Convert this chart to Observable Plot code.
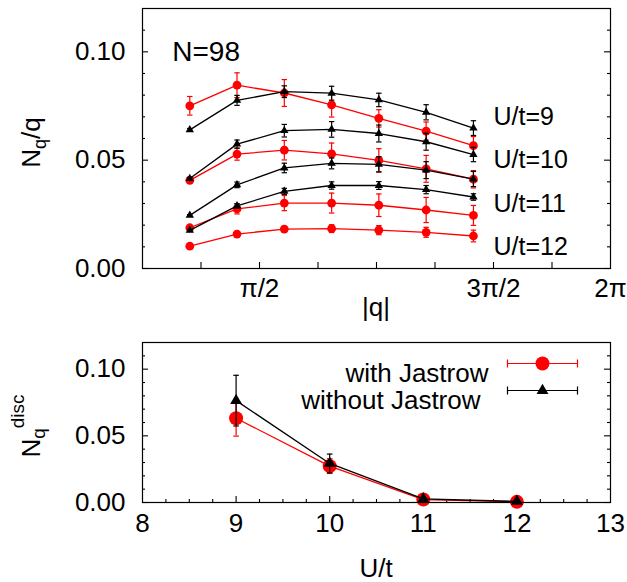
<!DOCTYPE html>
<html><head><meta charset="utf-8">
<script src="https://cdn.jsdelivr.net/npm/d3@7"></script>
<script src="https://cdn.jsdelivr.net/npm/@observablehq/plot@0.6"></script>
<style>
body{margin:0;background:#fff;}
#chart{width:627px;height:582px;position:relative;background:#fff;}
#chart svg{display:block;}
</style></head><body><div id="chart"></div>
<script>
const FONT = '"Liberation Sans", Arial, Helvetica, sans-serif';
const RED = "#ff0000";

// ---------- top panel data: N_q/q vs |q| (N=98) ----------
const qValues = [0.635, 1.269, 1.904, 2.539, 3.173, 3.808, 4.443];
const uValues = [9, 10, 11, 12];
// with Jastrow (red circles)
const withJ_U9  = [0.0751, 0.0846, 0.0810, 0.0755, 0.0693, 0.0634, 0.0567];
const withJ_U10 = [0.0407, 0.0528, 0.0546, 0.0529, 0.0499, 0.0460, 0.0412];
const withJ_U11 = [0.0188, 0.0275, 0.0302, 0.0302, 0.0292, 0.0270, 0.0245];
const withJ_U12 = [0.0103, 0.0159, 0.0182, 0.0184, 0.0177, 0.0167, 0.0150];
const withJ_U9err  = [0.0043, 0.0057, 0.0062, 0.0056, 0.0040, 0.0042, 0.0042];
const withJ_U10err = [0.0006, 0.0028, 0.0045, 0.0050, 0.0054, 0.0062, 0.0040];
const withJ_U11err = [0.0005, 0.0023, 0.0035, 0.0046, 0.0052, 0.0058, 0.0046];
const withJ_U12err = [0.0004, 0.0005, 0.0009, 0.0018, 0.0021, 0.0023, 0.0027];
// without Jastrow (black triangles)
const noJ_U9  = [0.0640, 0.0776, 0.0816, 0.0809, 0.0778, 0.0721, 0.0648];
const noJ_U10 = [0.0415, 0.0574, 0.0636, 0.0642, 0.0623, 0.0585, 0.0526];
const noJ_U11 = [0.0245, 0.0386, 0.0464, 0.0485, 0.0481, 0.0454, 0.0413];
const noJ_U12 = [0.0176, 0.0289, 0.0356, 0.0383, 0.0383, 0.0364, 0.0330];
const noJ_U9err  = [0.0006, 0.0023, 0.0027, 0.0032, 0.0031, 0.0035, 0.0034];
const noJ_U10err = [0.0006, 0.0019, 0.0029, 0.0036, 0.0039, 0.0039, 0.0033];
const noJ_U11err = [0.0004, 0.0013, 0.0022, 0.0025, 0.0035, 0.0039, 0.0035];
const noJ_U12err = [0.0004, 0.0010, 0.0014, 0.0017, 0.0018, 0.0019, 0.0015];

const topXTicks = [Math.PI/4, Math.PI/2, 3*Math.PI/4, Math.PI, 5*Math.PI/4, 3*Math.PI/2, 7*Math.PI/4];
const topXLabelValues = [Math.PI/2, 3*Math.PI/2, 2*Math.PI];
const topXLabels = ["π/2", "3π/2", "2π"];
const yMajorTicks = [0, 0.05, 0.10];
const yMinorTicks = [0.01, 0.02, 0.03, 0.04, 0.06, 0.07, 0.08, 0.09, 0.11];
const curveLabels = ["U/t=9", "U/t=10", "U/t=11", "U/t=12"];
const curveLabelY = [0.07, 0.05, 0.03, 0.01];
const curveLabelX = [3*Math.PI/2, 3*Math.PI/2, 3*Math.PI/2, 3*Math.PI/2];
const sizeLabel = ["N=98"];
const sizeLabelX = [0.4];
const sizeLabelY = [0.10];

// ---------- bottom panel data: N_q^disc vs U/t ----------
const uDisc = [9, 10, 11, 12];
const discWithJ = [0.0632, 0.0273, 0.0022, 0.0005];
const discWithJerr = [0.0134, 0.0055, 0.0008, 0.0005];
const discNoJ = [0.0764, 0.0293, 0.0027, 0.0008];
const discNoJerr = [0.0190, 0.0070, 0.0008, 0.0005];
const botXMajor = [9, 10, 11, 12];
const botXLabelValues = [8, 9, 10, 11, 12, 13];
const botXMinor = [8.25, 8.5, 8.75, 9.25, 9.5, 9.75, 10.25, 10.5, 10.75, 11.25, 11.5, 11.75, 12.25, 12.5, 12.75];
const legendLabels = ["with Jastrow", "without Jastrow"];

// ---------- build rows ----------
function rows(series, errs) {
  const out = [];
  series.forEach((s, k) => s.forEach((v, i) => out.push({U: uValues[k], q: qValues[i], v, e: errs[k][i]})));
  return out;
}
const redRows = rows([withJ_U9, withJ_U10, withJ_U11, withJ_U12], [withJ_U9err, withJ_U10err, withJ_U11err, withJ_U12err]);
const blackRows = rows([noJ_U9, noJ_U10, noJ_U11, noJ_U12], [noJ_U9err, noJ_U10err, noJ_U11err, noJ_U12err]);
const discRed = uDisc.map((u, i) => ({u, v: discWithJ[i], e: discWithJerr[i]}));
const discBlack = uDisc.map((u, i) => ({u, v: discNoJ[i], e: discNoJerr[i]}));

// ---------- custom symbols ----------
const capSym = (w) => ({draw(ctx){ ctx.moveTo(-w, 0); ctx.lineTo(w, 0); }});
const legendSym = {draw(ctx){
  ctx.moveTo(-35, 0); ctx.lineTo(35, 0);
  ctx.moveTo(-35, -4); ctx.lineTo(-35, 4);
  ctx.moveTo(35, -4); ctx.lineTo(35, 4);
}};

function errMarks(data, xKey, color, capW, sw) {
  return [
    Plot.ruleX(data, {x: xKey, y1: d => d.v - d.e, y2: d => d.v + d.e, stroke: color, strokeWidth: sw}),
    Plot.dot(data, {x: xKey, y: d => d.v + d.e, symbol: capSym(capW), stroke: color, fill: "none", strokeWidth: sw}),
    Plot.dot(data, {x: xKey, y: d => d.v - d.e, symbol: capSym(capW), stroke: color, fill: "none", strokeWidth: sw})
  ];
}
// inward tick marks on left & right frame edges (frame width in px = fw)
function yTickMarks(major, minor, fw) {
  const o = {stroke: "black", strokeWidth: 1.1};
  return [
    Plot.tickY(major, {y: d => d, insetRight: fw - 6, ...o}),
    Plot.tickY(minor, {y: d => d, insetRight: fw - 3, ...o}),
    Plot.tickY(major, {y: d => d, insetLeft: fw - 6, ...o}),
    Plot.tickY(minor, {y: d => d, insetLeft: fw - 3, ...o})
  ];
}
function xTickMarks(vals, len, fh) {
  return Plot.tickX(vals, {x: d => d, insetTop: fh - len, stroke: "black", strokeWidth: 1.1});
}

const style = {fontFamily: FONT, fontSize: "26px", color: "black", background: "white", overflow: "visible"};
const W = 627, ML = 142, MR = 17;
const FW = W - ML - MR;

// ---------- top plot ----------
const TH = 335, TMT = 8, TMB = 67;
const topPlot = Plot.plot({
  width: W, height: TH,
  marginLeft: ML, marginRight: MR, marginTop: TMT, marginBottom: TMB,
  style,
  x: {domain: [0, 2*Math.PI], axis: null},
  y: {domain: [0, 0.12], axis: null},
  marks: [
    ...yTickMarks(yMajorTicks, yMinorTicks, FW),
    xTickMarks(topXTicks, 6, TH - TMT - TMB),
    Plot.text(yMajorTicks, {y: d => d, frameAnchor: "left", dx: -17, textAnchor: "end", text: d => d3.format(".2f")(d), fill: "black"}),
    Plot.text(topXLabelValues, {x: d => d, frameAnchor: "bottom", dy: 28, text: (d, i) => topXLabels[i], fill: "black"}),
    Plot.line(redRows, {x: "q", y: "v", z: "U", stroke: RED, strokeWidth: 1.3}),
    ...errMarks(redRows, "q", RED, 2.7, 1.2),
    Plot.dot(redRows, {x: "q", y: "v", r: 4.4, fill: RED, stroke: "none"}),
    Plot.line(blackRows, {x: "q", y: "v", z: "U", stroke: "black", strokeWidth: 1.3}),
    ...errMarks(blackRows, "q", "black", 2.7, 1.2),
    Plot.dot(blackRows, {x: "q", y: "v", r: 3.1, symbol: "triangle", fill: "black", stroke: "none"}),
    Plot.text(curveLabels, {x: (d, i) => curveLabelX[i], y: (d, i) => curveLabelY[i], text: d => d, textAnchor: "start", fill: "black", fontSize: 25}),
    Plot.text(sizeLabel, {x: (d, i) => sizeLabelX[i], y: (d, i) => sizeLabelY[i], text: d => d, textAnchor: "start", fill: "black", fontSize: 28}),
    Plot.frame({stroke: "black", strokeWidth: 1.2})
  ]
});

// ---------- bottom plot ----------
const BH = 247, BMT = 7, BMB = 80;
const botPlot = Plot.plot({
  width: W, height: BH,
  marginLeft: ML, marginRight: MR, marginTop: BMT, marginBottom: BMB,
  style,
  x: {domain: [8, 13], axis: null},
  y: {domain: [0, 0.12], axis: null},
  marks: [
    ...yTickMarks(yMajorTicks, yMinorTicks, FW),
    xTickMarks(botXMajor, 6, BH - BMT - BMB),
    xTickMarks(botXMinor, 3, BH - BMT - BMB),
    Plot.text(yMajorTicks, {y: d => d, frameAnchor: "left", dx: -17, textAnchor: "end", text: d => d3.format(".2f")(d), fill: "black"}),
    Plot.text(botXLabelValues, {x: d => d, frameAnchor: "bottom", dy: 29, text: d => String(d), fill: "black"}),
    Plot.line(discRed, {x: "u", y: "v", stroke: RED, strokeWidth: 1.3}),
    ...errMarks(discRed, "u", RED, 2.8, 1.2),
    Plot.dot(discRed, {x: "u", y: "v", r: 7, fill: RED, stroke: "none"}),
    Plot.line(discBlack, {x: "u", y: "v", stroke: "black", strokeWidth: 1.3}),
    ...errMarks(discBlack, "u", "black", 2.8, 1.2),
    Plot.dot(discBlack, {x: "u", y: "v", r: 4.4, symbol: "triangle", fill: "black", stroke: "none"}),
    // legend
    Plot.text([legendLabels[0]], {frameAnchor: "top-right", dx: -122, dy: 21, text: d => d, textAnchor: "end", fill: "black"}),
    Plot.text([legendLabels[1]], {frameAnchor: "top-right", dx: -130, dy: 48, text: d => d, textAnchor: "end", fill: "black"}),
    Plot.dot([legendLabels[0]], {frameAnchor: "top-right", dx: -68, dy: 21, symbol: legendSym, stroke: RED, fill: "none", strokeWidth: 1.2}),
    Plot.dot([legendLabels[0]], {frameAnchor: "top-right", dx: -68, dy: 21, r: 7, fill: RED, stroke: "none"}),
    Plot.dot([legendLabels[1]], {frameAnchor: "top-right", dx: -68, dy: 48, symbol: legendSym, stroke: "black", fill: "none", strokeWidth: 1.2}),
    Plot.dot([legendLabels[1]], {frameAnchor: "top-right", dx: -68, dy: 48, r: 4.4, symbol: "triangle", fill: "black", stroke: "none"}),
    Plot.frame({stroke: "black", strokeWidth: 1.2})
  ]
});

// ---------- axis titles (with sub/superscripts) ----------
function title(svg, x, y, rotate) {
  return d3.select(svg).append("text")
    .attr("transform", `translate(${x},${y})` + (rotate ? " rotate(-90)" : ""))
    .attr("text-anchor", "middle")
    .attr("font-family", FONT).attr("font-size", 26).attr("fill", "black");
}
let t1 = title(topPlot, 40, 142.5, true);
t1.append("tspan").text("N");
t1.append("tspan").attr("font-size", 18).attr("dy", 6).text("q");
t1.append("tspan").attr("dy", -6).text("/q");
title(topPlot, 376, 316, false).text("|q|");

let t3 = title(botPlot, 40, 91, true);
t3.append("tspan").text("N");
t3.append("tspan").attr("font-size", 19).attr("dy", 5).text("q");
t3.append("tspan").attr("font-size", 19).attr("dy", -21).text("disc");
title(botPlot, 376, 242, false).text("U/t");

const chart = document.getElementById("chart");
chart.appendChild(topPlot);
chart.appendChild(botPlot);
</script></body></html>
